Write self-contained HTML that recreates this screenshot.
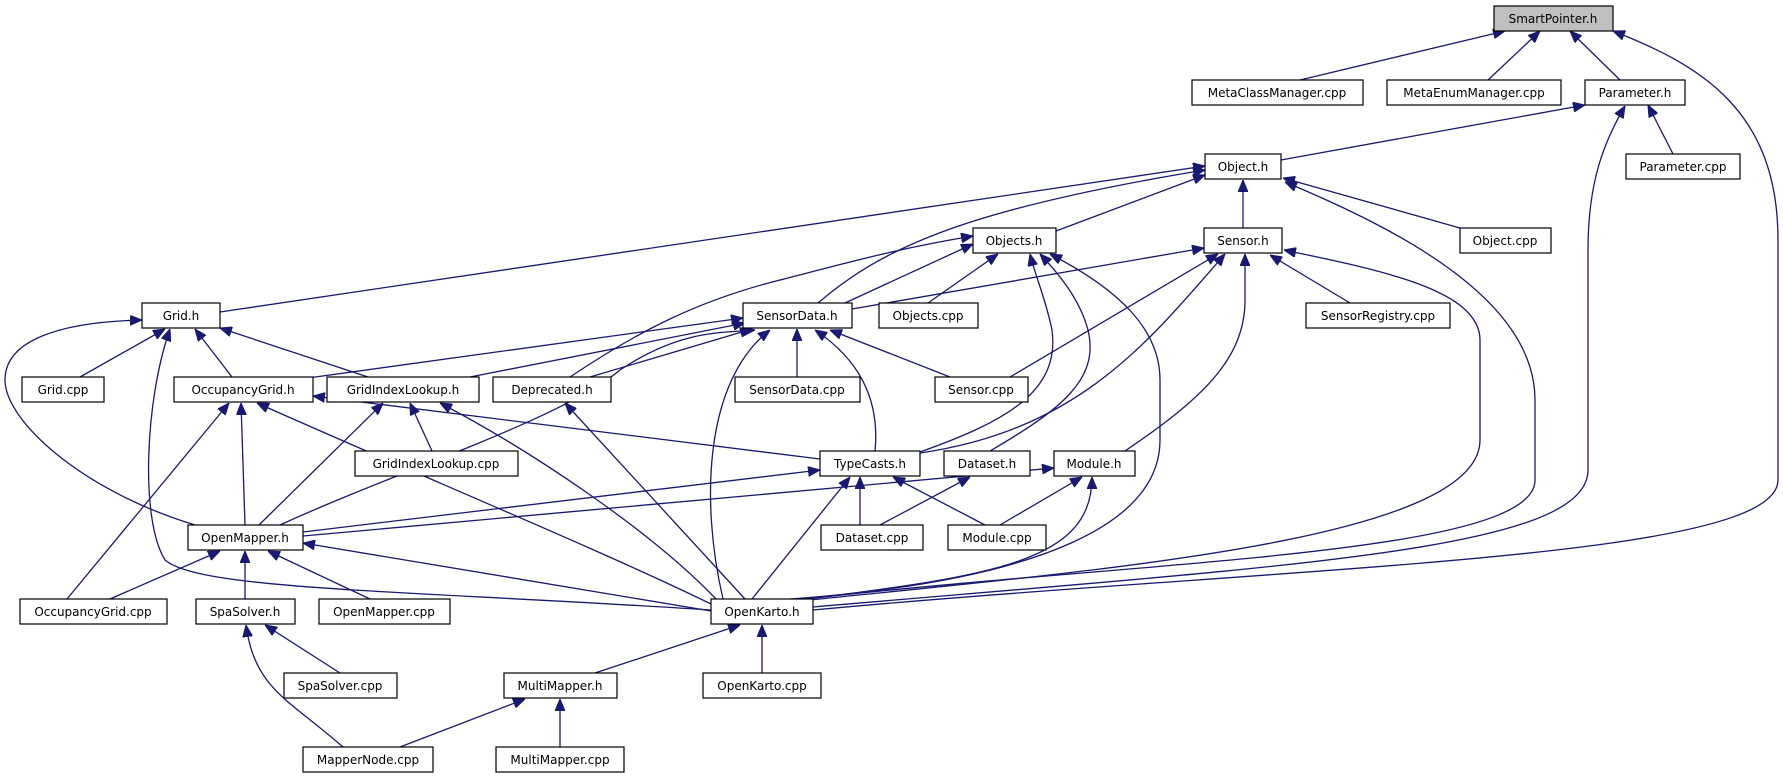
<!DOCTYPE html>
<html><head><meta charset="utf-8"><style>
html,body{margin:0;padding:0;background:#fff;}
svg{display:block;}
text{font-family:"DejaVu Sans","Liberation Sans",sans-serif;font-size:12px;fill:#000;}
.b{fill:#fff;stroke:#000;stroke-width:1.2;}
.e{fill:none;stroke:#191970;stroke-width:1.3;marker-end:url(#a);}
</style></head><body>
<svg width="1783" height="784" viewBox="0 0 1783 784" xmlns="http://www.w3.org/2000/svg">
<defs><marker id="a" markerUnits="userSpaceOnUse" markerWidth="12" markerHeight="10" refX="12" refY="5" orient="auto"><path d="M0,0 L12,5 L0,10 z" fill="#191970" stroke="#191970"/></marker></defs>
<g>
<path class="e" d="M1300,80 L1505,31"/>
<path class="e" d="M1488,80 L1540,31"/>
<path class="e" d="M1620,80 L1570,31"/>
<path class="e" d="M813,610 C1300,565 1778,560 1778,480 L1778,240 C1778,110 1700,65 1613,31"/>
<path class="e" d="M1281,160 L1585,105"/>
<path class="e" d="M1673,154 L1648,105"/>
<path class="e" d="M813,607 C1300,565 1588,550 1588,470 L1588,250 C1588,180 1605,140 1625,106"/>
<path class="e" d="M220,312 L1205,166"/>
<path class="e" d="M818,303 C880,250 960,210 1205,170"/>
<path class="e" d="M1056,231 L1205,175"/>
<path class="e" d="M1243,228 L1243,180"/>
<path class="e" d="M1460,228 L1283,178"/>
<path class="e" d="M805,599 C1150,560 1535,555 1535,480 L1535,400 C1535,300 1400,230 1285,182"/>
<path class="e" d="M845,303 L973,244"/>
<path class="e" d="M570,377 C640,330 700,300 780,280 C850,262 900,248 973,236"/>
<path class="e" d="M928,303 L998,254"/>
<path class="e" d="M920,452 C1010,420 1060,390 1052,330 C1046,300 1035,275 1030,254"/>
<path class="e" d="M990,451 C1060,410 1100,380 1088,330 C1080,300 1060,275 1040,254"/>
<path class="e" d="M790,599 C1050,580 1160,520 1160,440 L1160,380 C1160,330 1120,290 1050,254"/>
<path class="e" d="M852,309 L1204,248"/>
<path class="e" d="M1010,377 L1218,254"/>
<path class="e" d="M920,453 C1080,430 1150,340 1225,254"/>
<path class="e" d="M1125,451 C1200,400 1245,360 1245,300 L1245,254"/>
<path class="e" d="M1350,303 L1270,255"/>
<path class="e" d="M810,600 C1100,570 1480,540 1480,440 L1480,340 C1480,290 1380,270 1284,250"/>
<path class="e" d="M80,377 L165,329"/>
<path class="e" d="M232,377 L195,329"/>
<path class="e" d="M368,377 L220,328"/>
<path class="e" d="M195,525 C80,490 5,420 5,380 C5,340 60,322 142,320"/>
<path class="e" d="M711,610 C400,590 200,590 165,560 C140,520 145,400 170,329"/>
<path class="e" d="M308,378 L743,318"/>
<path class="e" d="M470,377 L745,323"/>
<path class="e" d="M590,377 L752,329"/>
<path class="e" d="M797,377 L797,329"/>
<path class="e" d="M950,377 L830,330"/>
<path class="e" d="M875,451 C880,400 860,360 815,330"/>
<path class="e" d="M280,525 C400,470 560,420 620,370 C680,330 720,333 755,330"/>
<path class="e" d="M723,599 C700,500 705,380 770,330"/>
<path class="e" d="M820,459 L313,396"/>
<path class="e" d="M245,525 L241,403"/>
<path class="e" d="M67,599 L229,403"/>
<path class="e" d="M711,604 C600,550 430,480 257,403"/>
<path class="e" d="M432,451 L410,403"/>
<path class="e" d="M259,525 L383,403"/>
<path class="e" d="M716,599 C650,530 530,450 440,403"/>
<path class="e" d="M303,532 L820,470"/>
<path class="e" d="M860,525 L860,477"/>
<path class="e" d="M985,525 L893,477"/>
<path class="e" d="M752,599 L850,477"/>
<path class="e" d="M745,599 L565,403"/>
<path class="e" d="M880,525 L970,477"/>
<path class="e" d="M303,536 L1054,468"/>
<path class="e" d="M1000,525 L1082,477"/>
<path class="e" d="M800,600 C1000,575 1092,560 1092,477"/>
<path class="e" d="M110,599 L220,551"/>
<path class="e" d="M245,599 L245,551"/>
<path class="e" d="M370,599 L268,551"/>
<path class="e" d="M711,611 L303,543"/>
<path class="e" d="M595,673 L740,625"/>
<path class="e" d="M762,673 L762,625"/>
<path class="e" d="M340,673 L265,625"/>
<path class="e" d="M343,747 C290,700 255,690 246,625"/>
<path class="e" d="M400,747 L525,699"/>
<path class="e" d="M560,747 L560,699"/>
</g>
<g>
<rect x="1494" y="6" width="119" height="25" fill="#bfbfbf" stroke="#000" stroke-width="1.2"/><text x="1553" y="23" text-anchor="middle">SmartPointer.h</text>
<rect class="b" x="1192" y="80" width="171" height="25"/><text x="1277" y="97" text-anchor="middle">MetaClassManager.cpp</text>
<rect class="b" x="1387" y="80" width="174" height="25"/><text x="1474" y="97" text-anchor="middle">MetaEnumManager.cpp</text>
<rect class="b" x="1585" y="80" width="100" height="25"/><text x="1635" y="97" text-anchor="middle">Parameter.h</text>
<rect class="b" x="1205" y="154" width="76" height="25"/><text x="1243" y="171" text-anchor="middle">Object.h</text>
<rect class="b" x="1626" y="154" width="114" height="25"/><text x="1683" y="171" text-anchor="middle">Parameter.cpp</text>
<rect class="b" x="973" y="228" width="83" height="25"/><text x="1014" y="245" text-anchor="middle">Objects.h</text>
<rect class="b" x="1204" y="228" width="78" height="25"/><text x="1243" y="245" text-anchor="middle">Sensor.h</text>
<rect class="b" x="1460" y="228" width="91" height="25"/><text x="1505" y="245" text-anchor="middle">Object.cpp</text>
<rect class="b" x="142" y="303" width="78" height="25"/><text x="181" y="320" text-anchor="middle">Grid.h</text>
<rect class="b" x="743" y="303" width="109" height="25"/><text x="797" y="320" text-anchor="middle">SensorData.h</text>
<rect class="b" x="879" y="303" width="99" height="25"/><text x="928" y="320" text-anchor="middle">Objects.cpp</text>
<rect class="b" x="1306" y="303" width="144" height="25"/><text x="1378" y="320" text-anchor="middle">SensorRegistry.cpp</text>
<rect class="b" x="22" y="377" width="82" height="25"/><text x="63" y="394" text-anchor="middle">Grid.cpp</text>
<rect class="b" x="174" y="377" width="139" height="25"/><text x="243" y="394" text-anchor="middle">OccupancyGrid.h</text>
<rect class="b" x="327" y="377" width="152" height="25"/><text x="403" y="394" text-anchor="middle">GridIndexLookup.h</text>
<rect class="b" x="493" y="377" width="118" height="25"/><text x="552" y="394" text-anchor="middle">Deprecated.h</text>
<rect class="b" x="735" y="377" width="125" height="25"/><text x="797" y="394" text-anchor="middle">SensorData.cpp</text>
<rect class="b" x="935" y="377" width="93" height="25"/><text x="981" y="394" text-anchor="middle">Sensor.cpp</text>
<rect class="b" x="355" y="451" width="163" height="25"/><text x="436" y="468" text-anchor="middle">GridIndexLookup.cpp</text>
<rect class="b" x="820" y="451" width="100" height="25"/><text x="870" y="468" text-anchor="middle">TypeCasts.h</text>
<rect class="b" x="944" y="451" width="86" height="25"/><text x="987" y="468" text-anchor="middle">Dataset.h</text>
<rect class="b" x="1054" y="451" width="81" height="25"/><text x="1094" y="468" text-anchor="middle">Module.h</text>
<rect class="b" x="188" y="525" width="115" height="25"/><text x="245" y="542" text-anchor="middle">OpenMapper.h</text>
<rect class="b" x="821" y="525" width="102" height="25"/><text x="872" y="542" text-anchor="middle">Dataset.cpp</text>
<rect class="b" x="948" y="525" width="98" height="25"/><text x="997" y="542" text-anchor="middle">Module.cpp</text>
<rect class="b" x="20" y="599" width="147" height="25"/><text x="93" y="616" text-anchor="middle">OccupancyGrid.cpp</text>
<rect class="b" x="196" y="599" width="99" height="25"/><text x="245" y="616" text-anchor="middle">SpaSolver.h</text>
<rect class="b" x="319" y="599" width="131" height="25"/><text x="384" y="616" text-anchor="middle">OpenMapper.cpp</text>
<rect class="b" x="711" y="599" width="102" height="25"/><text x="762" y="616" text-anchor="middle">OpenKarto.h</text>
<rect class="b" x="284" y="673" width="113" height="25"/><text x="340" y="690" text-anchor="middle">SpaSolver.cpp</text>
<rect class="b" x="504" y="673" width="113" height="25"/><text x="560" y="690" text-anchor="middle">MultiMapper.h</text>
<rect class="b" x="703" y="673" width="118" height="25"/><text x="762" y="690" text-anchor="middle">OpenKarto.cpp</text>
<rect class="b" x="303" y="747" width="130" height="25"/><text x="368" y="764" text-anchor="middle">MapperNode.cpp</text>
<rect class="b" x="496" y="747" width="128" height="25"/><text x="560" y="764" text-anchor="middle">MultiMapper.cpp</text>
</g>
</svg>
</body></html>
